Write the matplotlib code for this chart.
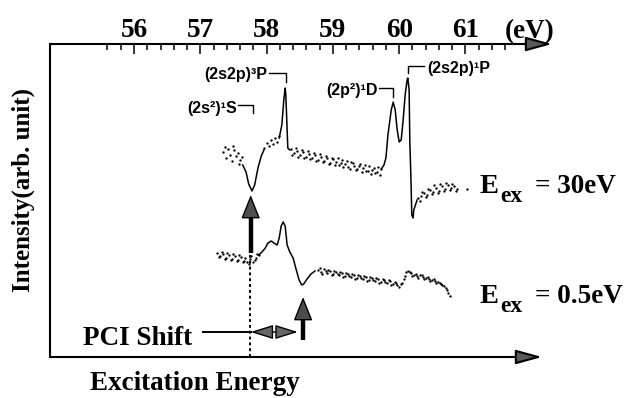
import matplotlib
matplotlib.use("Agg")
import matplotlib.pyplot as plt
from matplotlib.ticker import FixedLocator

W, H = 639, 398

# ---- data (photon energy in eV, intensity in arb. units) ----
# E_ex = 30 eV spectrum
top_dots_x = [57.34, 57.37, 57.39, 57.42, 57.45, 57.48, 57.49, 57.51, 57.54, 57.57, 57.58, 57.60, 57.63,
              57.96, 58.01, 58.04, 58.07, 58.10, 58.13, 58.16, 58.19]
top_dots_y = [20.5, 21.0, 19.9, 20.8, 20.2, 19.6, 21.1, 20.7, 20.1, 20.4, 19.3, 19.7, 20.0,
              20.9, 21.4, 21.1, 21.7, 21.3, 21.9, 21.5, 22.1]
top_bg_x = [58.37, 58.39, 58.41, 58.44, 58.46, 58.48, 58.50, 58.53, 58.55, 58.57, 58.59, 58.62, 58.64,
            58.66, 58.68, 58.71, 58.73, 58.75, 58.77, 58.80, 58.82, 58.85, 58.87, 58.89, 58.91, 58.94,
            58.96, 58.98, 59.00, 59.03, 59.05, 59.07, 59.09, 59.12, 59.14, 59.16, 59.18, 59.21, 59.23,
            59.26, 59.28, 59.30, 59.32, 59.35, 59.37, 59.39, 59.41, 59.44, 59.46, 59.48, 59.50, 59.53,
            59.55, 59.57, 59.59, 59.62, 59.64, 59.66, 59.68, 59.71, 59.73]
top_bg_y = [20.8, 20.2, 20.4, 20.9, 20.6, 20.0, 20.2, 20.7, 20.5, 19.9, 20.0, 20.6, 20.3, 19.8,
            19.9, 20.4, 20.2, 19.6, 19.7, 20.3, 20.0, 19.5, 19.6, 20.1, 19.9, 19.3, 19.4, 19.9,
            19.8, 19.2, 19.5, 19.9, 19.2, 19.4, 19.7, 19.0, 19.3, 19.6, 19.0, 18.8, 19.5, 19.4,
            19.1, 18.7, 18.8, 19.1, 19.3, 18.5, 18.9, 19.2, 18.6, 18.6, 19.1, 18.3, 18.7, 18.9,
            18.4, 18.5, 19.0, 18.2, 18.8]
top_dip_x = [57.64, 57.69, 57.73, 57.78, 57.82, 57.87, 57.92, 57.96]
top_dip_y = [19.2, 18.5, 17.3, 16.6, 17.2, 18.9, 20.1, 20.7]
top_3p_x = [58.19, 58.23, 58.26, 58.28, 58.29, 58.31, 58.32, 58.35]
top_3p_y = [21.9, 23.2, 25.7, 26.9, 26.2, 22.7, 20.9, 20.7]
top_1d1p_x = [59.73, 59.77, 59.80, 59.83, 59.88, 59.91, 59.94, 59.97, 60.00, 60.03, 60.06, 60.09,
              60.12, 60.13, 60.15, 60.16, 60.18, 60.19, 60.21, 60.22, 60.27]
top_1d1p_y = [18.8, 19.2, 19.9, 22.2, 24.7, 25.5, 24.7, 22.7, 21.5, 21.7, 23.7, 26.2,
              27.7, 27.9, 26.7, 21.7, 17.2, 14.2, 13.9, 14.7, 15.7]
top_tail_x = [60.28, 60.31, 60.33, 60.35, 60.37, 60.40, 60.42, 60.44, 60.46, 60.49, 60.51, 60.53,
              60.55, 60.58, 60.60, 60.62, 60.64, 60.67, 60.69, 60.71, 60.73, 60.76, 60.78, 60.80,
              60.82, 60.85, 60.87, 61.02]
top_tail_y = [15.9, 15.6, 16.1, 16.5, 16.4, 16.0, 16.2, 16.8, 16.7, 16.3, 16.5, 17.2,
              16.9, 16.4, 16.6, 17.3, 17.1, 16.6, 16.8, 17.4, 17.2, 16.7, 16.9, 17.3,
              17.1, 16.6, 16.8, 16.8]

# E_ex = 0.5 eV spectrum
bot_dots_x = [57.25, 57.28, 57.30, 57.32, 57.34, 57.37, 57.39, 57.41, 57.43, 57.46, 57.48, 57.50,
              57.52, 57.55, 57.57, 57.59, 57.61, 57.64, 57.66, 57.68, 57.70, 57.73, 57.75, 57.77,
              57.79, 57.82, 57.84, 57.86, 57.88]
bot_dots_y = [10.4, 10.0, 10.1, 10.5, 10.3, 9.8, 9.9, 10.4, 10.2, 9.7, 9.8, 10.3,
              10.1, 9.6, 9.7, 10.2, 10.0, 9.5, 9.6, 9.9, 9.5, 9.3, 9.8, 10.1,
              9.5, 9.7, 9.9, 10.3, 10.2]
bot_line_x = [57.88, 57.93, 57.98, 58.02, 58.07, 58.11, 58.16, 58.19, 58.22, 58.25, 58.28, 58.31,
              58.35, 58.40, 58.44, 58.49, 58.53, 58.56, 58.61, 58.67, 58.73]
bot_line_y = [10.2, 10.5, 10.9, 11.4, 11.6, 11.4, 11.2, 11.9, 13.1, 13.5, 13.1, 11.2,
              10.5, 9.9, 8.9, 7.7, 7.2, 7.3, 7.8, 8.3, 8.6]
bot_bg_x = [58.78, 58.80, 58.82, 58.84, 58.87, 58.89, 58.91, 58.93, 58.96, 58.98, 59.00, 59.02,
            59.05, 59.07, 59.09, 59.11, 59.14, 59.16, 59.18, 59.20, 59.23, 59.25, 59.27, 59.29,
            59.32, 59.34, 59.36, 59.38, 59.41, 59.43, 59.45, 59.47, 59.50, 59.52, 59.54, 59.56,
            59.59, 59.61, 59.63, 59.65, 59.68, 59.70, 59.73, 59.75, 59.77, 59.79, 59.82, 59.84,
            59.86, 59.88, 59.91, 59.93, 59.95, 59.97, 60.00, 60.02, 60.04, 60.07, 60.09, 60.11,
            60.13, 60.16, 60.18, 60.20, 60.22, 60.25, 60.27, 60.29, 60.31, 60.34, 60.36, 60.38,
            60.40, 60.43, 60.45, 60.47, 60.49, 60.52, 60.54, 60.56, 60.58, 60.61, 60.63, 60.65,
            60.67, 60.70, 60.72, 60.74, 60.77]
bot_bg_y = [8.7, 8.9, 8.5, 8.3, 8.8, 8.6, 8.4, 8.7, 8.6, 8.2, 8.3, 8.6, 8.5, 8.3, 8.2, 8.5,
            8.4, 8.0, 8.1, 8.4, 8.3, 8.1, 8.0, 8.3, 8.2, 7.8, 7.9, 8.2, 8.1, 7.9, 7.8, 8.1,
            8.0, 7.6, 7.7, 8.0, 7.9, 7.7, 7.6, 7.9, 7.8, 7.4, 7.5, 7.8, 7.7, 7.5, 7.4, 7.7,
            7.6, 7.2, 7.3, 7.5, 7.4, 7.2, 7.0, 7.3, 7.4, 7.8, 8.1, 8.5, 8.6, 8.5, 8.4, 8.1,
            8.2, 8.3, 8.1, 7.9, 8.2, 8.2, 8.0, 7.8, 7.9, 8.0, 7.8, 7.6, 7.7, 7.8, 7.6, 7.4,
            7.5, 7.4, 7.3, 7.2, 7.1, 6.9, 6.7, 6.4, 6.1]

major_ticks = [56, 57, 58, 59, 60, 61]
minor_ticks = [55.6, 55.8, 56.2, 56.4, 56.6, 56.8, 57.2, 57.4, 57.6, 57.8, 58.2, 58.4, 58.6, 58.8,
               59.2, 59.4, 59.6, 59.8, 60.2, 60.4, 60.6, 60.8, 61.2, 61.4, 61.6]

resonances = ["(2s²)¹S", "(2s2p)³P", "(2p²)¹D", "(2s2p)¹P"]
e_dip_30 = 57.76     # position of the (2s²)¹S dip, 30 eV
e_dip_05 = 58.55     # shifted position, 0.5 eV

plt.rcParams['font.family'] = ['Liberation Serif', 'DejaVu Serif']
plt.rcParams['font.weight'] = 'bold'


def fx(px):
    return px / W


def fy(py):
    return 1 - py / H


fig = plt.figure(figsize=(W / 100, H / 100), dpi=100)
ax = fig.add_axes([fx(50), fy(357), (552 - 50) / W, (357 - 44) / H])
ax.set_xlim(54.733, 62.305)
ax.set_ylim(0, 31.3)

for s in ['top', 'right', 'bottom']:
    ax.spines[s].set_visible(False)
ax.spines['left'].set_linewidth(1.5)
ax.set_yticks([])

# top energy axis
ax.xaxis.set_ticks_position('top')
ax.xaxis.set_major_locator(FixedLocator(major_ticks))
ax.xaxis.set_minor_locator(FixedLocator(minor_ticks))
ax.tick_params(axis='x', which='major', direction='in', length=7.2, width=1.1, pad=1,
               labelsize=19.5, top=True, bottom=False, labeltop=True, labelbottom=False)
ax.tick_params(axis='x', which='minor', direction='in', length=4.3, width=1.1,
               top=True, bottom=False)
for lab in ax.get_xticklabels():
    lab.set_fontweight('bold')

arrow_kw = dict(arrowstyle='-|>,head_length=0.8,head_width=0.22', mutation_scale=20,
                lw=1.5, fc='0.35', ec='k', shrinkA=0, shrinkB=0)
ax.annotate('', xy=(1.0, 1.0), xytext=(0.0, 1.0), xycoords='axes fraction',
            arrowprops=arrow_kw, annotation_clip=False)
ax.annotate('', xy=((542 - 50) / 502, 0.0), xytext=(0.0, 0.0), xycoords='axes fraction',
            arrowprops=arrow_kw, annotation_clip=False)

# spectra
dot_kw = dict(ls='none', marker='o', ms=1.7, mfc='k', mec='none')
line_kw = dict(color='k', lw=1.1)
ax.plot(top_dots_x, top_dots_y, **dot_kw)
ax.plot(top_bg_x, top_bg_y, **dot_kw)
ax.plot(top_tail_x, top_tail_y, **dot_kw)
ax.plot(top_dip_x, top_dip_y, **line_kw)
ax.plot(top_3p_x, top_3p_y, **line_kw)
ax.plot(top_1d1p_x, top_1d1p_y, **line_kw)
ax.plot(bot_dots_x, bot_dots_y, **dot_kw)
ax.plot(bot_bg_x, bot_bg_y, **dot_kw)
ax.plot(bot_line_x, bot_line_y, **line_kw)

# resonance labels with brackets
lab_kw = dict(fontsize=11.5, fontweight='bold', family='Liberation Sans', va='center')
ax.text(57.55, 24.9, resonances[0], ha='right', **lab_kw)
ax.plot([57.57, 57.80, 57.80], [25.2, 25.2, 24.4], color='k', lw=1)
ax.text(58.01, 28.2, resonances[1], ha='right', **lab_kw)
ax.plot([58.04, 58.29, 58.29], [28.4, 28.4, 27.5], color='k', lw=1)
ax.text(59.67, 26.7, resonances[2], ha='right', **lab_kw)
ax.plot([59.69, 59.91, 59.91], [26.9, 26.9, 26.0], color='k', lw=1)
ax.text(60.42, 28.9, resonances[3], ha='left', **lab_kw)
ax.plot([60.13, 60.13, 60.38], [28.4, 29.1, 29.1], color='k', lw=1)

# PCI shift markers
head_kw = dict(arrowstyle='-|>,head_length=0.75,head_width=0.3', mutation_scale=20,
               lw=1, fc='0.3', ec='k', shrinkA=0, shrinkB=0)
ax.plot([e_dip_30, e_dip_30], [10.4, 14.2], color='k', lw=3.2, solid_capstyle='butt')
ax.annotate('', xy=(e_dip_30, 16.2), xytext=(e_dip_30, 14.2), arrowprops=head_kw)
ax.plot([e_dip_30 - 0.01, e_dip_30 - 0.01], [0, 10.4], color='k', lw=1.4, ls=(0, (1.5, 1.5)))
ax.plot([e_dip_05, e_dip_05], [1.7, 4.0], color='k', lw=3.2, solid_capstyle='butt')
ax.annotate('', xy=(e_dip_05, 6.0), xytext=(e_dip_05, 4.0), arrowprops=head_kw)
ax.plot([57.04, e_dip_30], [2.5, 2.5], color='k', lw=1.4)
ax.annotate('', xy=(58.47, 2.5), xytext=(e_dip_30, 2.5),
            arrowprops=dict(arrowstyle='<|-|>,head_length=0.7,head_width=0.22', mutation_scale=20,
                            lw=1, fc='0.4', ec='k', shrinkA=0, shrinkB=0))

# text outside / around the axes
big = dict(fontsize=19.5, fontweight='bold')
fig.text(fx(530), fy(38), '(eV)', ha='center', va='baseline', **big)
fig.text(fx(23), fy(190), 'Intensity(arb. unit)', rotation=90, ha='center', va='center',
         fontsize=18, fontweight='bold')
fig.text(fx(195), fy(390), 'Excitation Energy', ha='center', va='baseline', **big)
fig.text(fx(83), fy(345), 'PCI Shift', ha='left', va='baseline', **big)

for e_ex, base in [('30eV', 193), ('0.5eV', 303)]:
    fig.text(fx(480), fy(base), 'E', ha='left', va='baseline', fontsize=20.5, fontweight='bold')
    fig.text(fx(500), fy(base + 9), 'ex', ha='left', va='baseline', fontsize=17, fontweight='bold')
    fig.text(fx(535), fy(base), '= ' + e_ex, ha='left', va='baseline', **big)

fig.savefig('out.png', dpi=100)
